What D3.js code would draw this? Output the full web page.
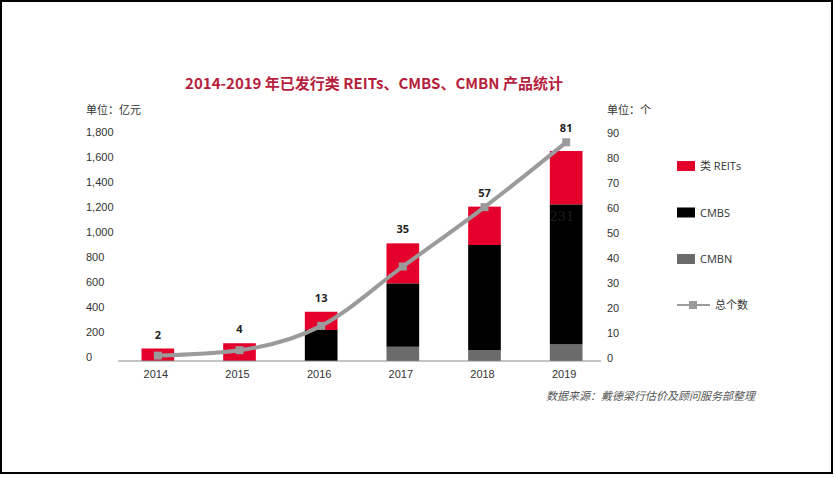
<!DOCTYPE html>
<html>
<head>
<meta charset="utf-8">
<script src="https://cdn.jsdelivr.net/npm/d3@7"></script>
<style>
  body { margin: 0; background: #fff; }
  svg { display: block; font-family: "Open Sans", "Noto Sans CJK SC", sans-serif; }
</style>
</head>
<body>
<svg id="chart" width="836" height="478"></svg>
<script>
// data (amounts in 亿元, counts in 个)
const years = ['2014', '2015', '2016', '2017', '2018', '2019'];
const reits = [100, 142, 146, 320, 307, 427];
const cmbs = [0, 0, 248, 507, 840, 1120];
const cmbn = [0, 0, 0, 114, 88, 133];
const counts = [2, 4, 13, 35, 57, 81];
const amountTicks = [0, 200, 400, 600, 800, 1000, 1200, 1400, 1600, 1800];
const countTicks = [0, 10, 20, 30, 40, 50, 60, 70, 80, 90];
const legendItems = ['类 REITs', 'CMBS', 'CMBN', '总个数'];

const RED = '#e4002b', BLACK = '#000', GRAY = '#6b6b6b', LINE = '#9b9b9b';

const svg = d3.select('#chart');

// frame
svg.append('rect')
  .attr('x', 1).attr('y', 1).attr('width', 831).attr('height', 472)
  .attr('fill', 'none').attr('stroke', '#000').attr('stroke-width', 2);

const x = d3.scaleBand().domain(years).range([117, 607])
  .paddingInner(0.6).paddingOuter(0.3);
const yAmt = d3.scaleLinear().domain([0, 1800]).range([361, 136]);
const yCnt = d3.scaleLinear().domain([0, 90]).range([361, 136]);
// the count line in the original is drawn a bit steeper than the right axis
const yLine = d3.scaleLinear().domain([0, 90]).range([361, 118]);

// title
svg.append('text')
  .attr('x', 374).attr('y', 89)
  .attr('text-anchor', 'middle')
  .attr('fill', '#b51f3d')
  .style('font-size', '15px').style('font-weight', 'bold')
  .style('font-family', '"Noto Sans CJK SC", "Open Sans", sans-serif')
  .text('2014-2019 年已发行类 REITs、CMBS、CMBN 产品统计');

// unit labels
svg.append('text').attr('x', 86).attr('y', 114)
  .attr('fill', '#333').style('font-size', '11px')
  .text('单位：亿元');
svg.append('text').attr('x', 607).attr('y', 114)
  .attr('fill', '#333').style('font-size', '11px')
  .text('单位：个');

// left axis (labels left aligned)
const leftAxis = svg.append('g')
  .attr('transform', 'translate(86,-4)')
  .call(d3.axisRight(yAmt).tickValues(amountTicks).tickFormat(d3.format(',')).tickSize(0).tickPadding(0));
leftAxis.select('.domain').remove();
leftAxis.selectAll('text').attr('fill', '#333').style('font-size', '11px');

// right axis
const rightAxis = svg.append('g')
  .attr('transform', 'translate(607,-3.5)')
  .call(d3.axisRight(yCnt).tickValues(countTicks).tickSize(0).tickPadding(0));
rightAxis.select('.domain').remove();
rightAxis.selectAll('text').attr('fill', '#333').style('font-size', '11px');

// stacked bars
const rows = years.map((y, i) => ({ year: y, cmbn: cmbn[i], cmbs: cmbs[i], reits: reits[i] }));
const stack = d3.stack().keys(['cmbn', 'cmbs', 'reits'])(rows);
const colors = { cmbn: GRAY, cmbs: BLACK, reits: RED };

svg.append('g').selectAll('g')
  .data(stack)
  .enter().append('g')
  .attr('fill', d => colors[d.key])
  .selectAll('rect')
  .data(d => d)
  .enter().append('rect')
  .attr('x', d => x(d.data.year))
  .attr('y', d => yAmt(d[1]))
  .attr('width', x.bandwidth())
  .attr('height', d => yAmt(d[0]) - yAmt(d[1]));

// stray label left on the 2019 bar in the original
svg.append('text')
  .attr('x', 562).attr('y', 221)
  .attr('text-anchor', 'middle')
  .attr('fill', '#1c1c1c')
  .style('font-family', '"DejaVu Serif", serif').style('font-size', '13px')
  .text('231');

// x axis
svg.append('line')
  .attr('x1', 118).attr('x2', 601).attr('y1', 361).attr('y2', 361)
  .attr('stroke', '#8a8a8a').attr('stroke-width', 1);
const xAxis = svg.append('g')
  .attr('transform', 'translate(-2,361)')
  .call(d3.axisBottom(x).tickSize(0).tickPadding(9));
xAxis.select('.domain').remove();
xAxis.selectAll('text').attr('fill', '#333').style('font-size', '11px');

// count line
const cx = d => x(d) + x.bandwidth() / 2;
const line = d3.line()
  .x((d, i) => cx(years[i]))
  .y(d => yLine(d))
  .curve(d3.curveMonotoneX);
svg.append('path')
  .datum(counts)
  .attr('d', line)
  .attr('fill', 'none')
  .attr('stroke', LINE)
  .attr('stroke-width', 4);
svg.append('g').selectAll('rect')
  .data(counts)
  .enter().append('rect')
  .attr('x', (d, i) => cx(years[i]) - 4)
  .attr('y', d => yLine(d) - 4)
  .attr('width', 8).attr('height', 8)
  .attr('fill', LINE);

// count labels
const totals = years.map((y, i) => reits[i] + cmbs[i] + cmbn[i]);
svg.append('g').selectAll('text')
  .data(counts)
  .enter().append('text')
  .attr('x', (d, i) => cx(years[i]))
  .attr('y', (d, i) => Math.min(yAmt(totals[i]), yLine(d)) - 10)
  .attr('text-anchor', 'middle')
  .attr('fill', '#222')
  .style('font-size', '11px').style('font-weight', 'bold')
  .text(d => d);

// legend
const legend = svg.append('g').attr('transform', 'translate(677,0)');
const legendY = [166, 212.5, 259, 305];
const legendColors = [RED, BLACK, GRAY];
legendItems.forEach((name, i) => {
  const g = legend.append('g').attr('transform', `translate(0,${legendY[i]})`);
  if (i < 3) {
    g.append('rect').attr('x', 0).attr('y', -5).attr('width', 18).attr('height', 10)
      .attr('fill', legendColors[i]);
    g.append('text').attr('x', 23).attr('y', 4)
      .attr('fill', '#333').style('font-size', '11px').text(name);
  } else {
    g.append('line').attr('x1', 0).attr('x2', 33).attr('y1', 0).attr('y2', 0)
      .attr('stroke', LINE).attr('stroke-width', 2);
    g.append('rect').attr('x', 12).attr('y', -4).attr('width', 8).attr('height', 8)
      .attr('fill', LINE);
    g.append('text').attr('x', 38).attr('y', 4)
      .attr('fill', '#333').style('font-size', '11px').text(name);
  }
});

// source
svg.append('text')
  .attr('x', 755).attr('y', 400)
  .attr('text-anchor', 'end')
  .attr('fill', '#555')
  .style('font-size', '11px').style('font-style', 'italic')
  .text('数据来源：戴德梁行估价及顾问服务部整理');
</script>
</body>
</html>
